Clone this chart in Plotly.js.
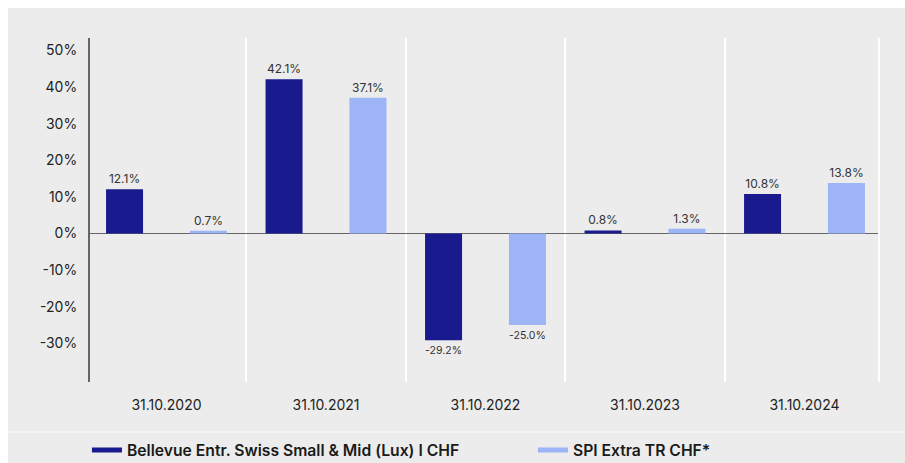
<!DOCTYPE html>
<html>
<head>
<meta charset="utf-8">
<script src="https://cdn.plot.ly/plotly-3.0.1.min.js"></script>
<style>
  html, body { margin: 0; padding: 0; background: #ffffff; width: 905px; height: 463px; overflow: hidden; }
  #chart { position: absolute; left: 8px; top: 8px; width: 897px; height: 455px; }
</style>
</head>
<body>
<div id="chart"></div>
<script>
const categories = ["31.10.2020", "31.10.2021", "31.10.2022", "31.10.2023", "31.10.2024"];
const fundName = "Bellevue Entr. Swiss Small & Mid (Lux) I CHF";
const indexName = "SPI Extra TR CHF*";
const fundValues = [12.1, 42.1, -29.2, 0.8, 10.8];
const indexValues = [0.7, 37.1, -25.0, 1.3, 13.8];
const yTickVals = [-30, -20, -10, 0, 10, 20, 30, 40, 50];

const darkColor = "#1a1a8f";
const lightColor = "#9db4f6";
const fmt = v => v.toFixed(1) + "%";

const barWidth = 0.232;
const traces = [
  {
    type: "bar", x: categories, y: fundValues, name: fundName,
    marker: { color: darkColor }, width: barWidth, offset: -0.379,
    text: fundValues.map(fmt), textposition: "outside", cliponaxis: false,
    textfont: { family: "Inter, sans-serif", size: 12, color: "#333333" },
    showlegend: false, hoverinfo: "skip"
  },
  {
    type: "bar", x: categories, y: indexValues, name: indexName,
    marker: { color: lightColor }, width: barWidth, offset: 0.147,
    text: indexValues.map(fmt), textposition: "outside", cliponaxis: false,
    textfont: { family: "Inter, sans-serif", size: 12, color: "#333333" },
    showlegend: false, hoverinfo: "skip"
  },
  {
    type: "scatter", mode: "lines", x: [null], y: [null], name: fundName,
    line: { color: darkColor, width: 5 }, showlegend: true, legendwidth: 401
  },
  {
    type: "scatter", mode: "lines", x: [null], y: [null], name: indexName,
    line: { color: lightColor, width: 5 }, showlegend: true
  }
];

const layout = {
  width: 897, height: 455,
  paper_bgcolor: "#ececec", plot_bgcolor: "#ececec",
  margin: { l: 82, r: 26, t: 30, b: 81 },
  barmode: "overlay",
  font: { family: "Inter, sans-serif", color: "#222222" },
  xaxis: {
    type: "category",
    range: [-0.4796, 4.467],
    tickson: "boundaries",
    showgrid: true, gridcolor: "#ffffff", gridwidth: 2,
    ticks: "", showline: false, zeroline: false,
    tickfont: { family: "Inter, sans-serif", size: 14, color: "#222222" },
    ticklabelstandoff: 13
  },
  yaxis: {
    range: [-40.6, 53.4],
    tickvals: yTickVals,
    ticktext: yTickVals.map(v => v + "%"),
    showgrid: false,
    zeroline: true, zerolinecolor: "#666666", zerolinewidth: 1.5,
    showline: true, linecolor: "#666666", linewidth: 2,
    ticks: "",
    tickfont: { family: "Inter, sans-serif", size: 14, color: "#222222" },
    ticklabelstandoff: 8
  },
  shapes: [
    { type: "line", xref: "paper", yref: "paper", x0: 1, x1: 1, y0: 0, y1: 1,
      line: { color: "#ffffff", width: 2 } },
    { type: "line", xref: "paper", yref: "paper", x0: -0.11, x1: 1.04, y0: -0.1453, y1: -0.1453,
      line: { color: "#f6f6f6", width: 1.5 } }
  ],
  showlegend: true,
  legend: {
    orientation: "h",
    xref: "container", yref: "container",
    x: 0.088, y: 0.028, xanchor: "left", yanchor: "middle",
    bgcolor: "rgba(0,0,0,0)",
    font: { family: "Inter, sans-serif", size: 15.7, color: "#1a1a1a", weight: 600 }
  }
};

Plotly.newPlot("chart", traces, layout, { displayModeBar: false, staticPlot: true });
</script>
</body>
</html>
